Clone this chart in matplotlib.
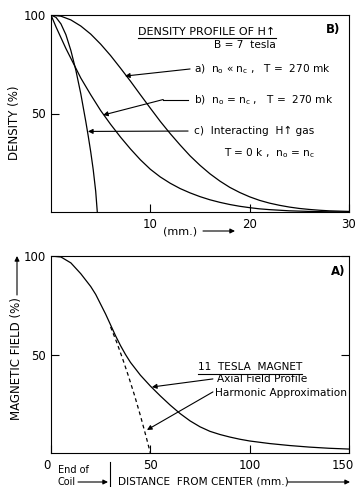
import matplotlib
matplotlib.use("Agg")
import matplotlib.pyplot as plt
import matplotlib.transforms as mtransforms
from matplotlib.lines import Line2D

plt.rcParams['font.family'] = ['DejaVu Sans']
plt.rcParams['mathtext.default'] = 'regular'

# ===== DATA =====
# B) density profiles of H-up, x in mm, density in %
dens_a_x = [0, 1, 2, 3, 4, 5, 6, 7, 8, 9, 10, 11, 12, 13, 14, 15, 16, 17, 18, 19,
            20, 21, 22, 23, 24, 25, 26, 27, 28, 30]
dens_a_y = [100, 99.4, 97.5, 94.4, 90.3, 85.2, 79.4, 73, 66.4, 59.5, 52.7, 46, 39.8, 34,
            28.5, 23.7, 19.4, 15.7, 12.5, 9.9, 7.7, 5.9, 4.5, 3.4, 2.5, 1.8, 1.3, 0.9, 0.6, 0.3]

dens_b_x = [0, 0.5, 1, 1.5, 2, 3, 4, 5, 6, 7, 8, 9, 10, 11, 12, 13, 14, 15, 16, 17, 18, 19,
            20, 21, 22, 24, 26, 28, 30]
dens_b_y = [100, 94, 88.5, 83, 78, 68, 59.5, 51.5, 44.5, 38, 32, 26.5, 21.7, 17.8, 14.6,
            11.9, 9.7, 7.8, 6.2, 4.9, 3.8, 2.9, 2.2, 1.6, 1.2, 0.6, 0.3, 0.1, 0]

dens_c_x = [0, 0.5, 1, 1.5, 2, 2.5, 3, 3.25, 3.5, 3.75, 4, 4.25, 4.5, 4.66]
dens_c_y = [100, 98.8, 95.5, 90, 82, 72, 60, 53, 46, 38.5, 30.5, 21.5, 10.5, 0]

# A) 11 tesla magnet, distance in mm, field in %
field_x = [0, 5, 10, 15, 20, 22.5, 25, 27.5, 30, 32.5, 35, 37.5, 40, 45, 50, 55, 60, 65,
           70, 75, 80, 85, 90, 95, 100, 110, 120, 130, 140, 150]
field_y = [100, 99.5, 96.5, 91, 84.5, 80.5, 75.5, 70.5, 65, 59.5, 54.5, 50, 46, 39.5,
           34, 29, 24.3, 20, 16.3, 13.3, 11, 9.4, 8.1, 7, 6.1, 4.8, 3.8, 3, 2.4, 2]

harm_x = [30, 33, 36, 39, 42, 45, 48, 50]
harm_y = [64, 56.4, 48, 39, 29.4, 19, 7.8, 0]

W, H = 358, 487
LW = 0.9
FS = 7.6


def fx(px):
    return px / W


def fy(py):
    return 1 - py / H


def underline(fig, txt, pad=1.5):
    fig.canvas.draw()
    bb = txt.get_window_extent()
    y = bb.y0 - pad
    fig.add_artist(Line2D([bb.x0 / fig.bbox.width, bb.x1 / fig.bbox.width],
                          [y / fig.bbox.height, y / fig.bbox.height],
                          transform=fig.transFigure, color='k', lw=0.8))


def arrow(ax, xy, xytext, coords='data'):
    ax.annotate('', xy=xy, xytext=xytext, xycoords=coords, textcoords=coords,
                annotation_clip=False,
                arrowprops=dict(arrowstyle='-|>', lw=0.8, color='k',
                                mutation_scale=7, shrinkA=0, shrinkB=0))


fig = plt.figure(figsize=(W / 100, H / 100), dpi=100)

# ===== ВЕРХНИЙ ГРАФИК: B) =====
ax1 = fig.add_axes([fx(51), fy(212), 298 / W, 197 / H])
ax1.plot(dens_a_x, dens_a_y, color='k', lw=LW)
ax1.plot(dens_b_x, dens_b_y, color='k', lw=LW)
ax1.plot(dens_c_x, dens_c_y, color='k', lw=LW)
ax1.set_xlim(0, 30)
ax1.set_ylim(0, 100)
ax1.set_xticks([10, 20, 30])
ax1.set_yticks([50, 100])
ax1.tick_params(direction='in', length=6, width=0.8, labelsize=8.5, pad=4)

t1 = ax1.text(15.7, 91.4, 'DENSITY PROFILE OF H↑', ha='center', va='center', fontsize=8)
ax1.text(28.4, 92.4, 'B)', ha='center', va='center', fontsize=8.5, weight='bold')
ax1.text(19.5, 84.8, 'B = 7  tesla', ha='center', va='center', fontsize=FS)
ax1.text(14.4, 72.3, 'a)  n$_o$ « n$_c$ ,   T =  270 mk', ha='left', va='center', fontsize=FS)
ax1.text(14.4, 56.9, 'b)  n$_o$ = n$_c$ ,   T =  270 mk', ha='left', va='center', fontsize=FS)
ax1.text(14.4, 41.1, 'c)  Interacting  H↑ gas', ha='left', va='center', fontsize=FS)
ax1.text(22.0, 30.0, 'T = 0 k ,  n$_o$ = n$_c$', ha='center', va='center', fontsize=FS)

arrow(ax1, (7.45, 69.0), (14.0, 72.6))
ax1.plot([13.8, 11.3], [57.1, 57.1], color='k', lw=0.8)
arrow(ax1, (5.24, 49.2), (11.3, 57.1))
arrow(ax1, (3.72, 40.9), (13.8, 41.1))

fig.text(fx(15), fy(123), 'DENSITY (%)', rotation=90, ha='center', va='center', fontsize=8.5)
fig.text(fx(180), fy(231), '(mm.)', ha='center', va='center', fontsize=8)
arrow(ax1, (fx(235), fy(231)), (fx(203), fy(231)), coords='figure fraction')

# ===== НИЖНИЙ ГРАФИК: A) =====
ax2 = fig.add_axes([fx(51), fy(453), 298 / W, 197 / H])
ax2.plot(field_x, field_y, color='k', lw=LW)
ax2.plot(harm_x, harm_y, color='k', lw=LW, ls=(0, (3, 2.5)))
ax2.set_xlim(0, 150)
ax2.set_ylim(0, 100)
ax2.set_xticks([0, 50, 100, 150])
ax2.set_yticks([50, 100])
ax2.tick_params(direction='in', length=6, width=0.8, labelsize=8.5, pad=4, right=True)
xlabs = ax2.get_xticklabels()
xlabs[0].set_horizontalalignment('right')
xlabs[-1].set_transform(xlabs[-1].get_transform() +
                        mtransforms.ScaledTranslation(-6 / 100, 0, fig.dpi_scale_trans))

t2 = ax2.text(100.2, 43.5, '11  TESLA  MAGNET', ha='center', va='center', fontsize=FS)
ax2.text(144.5, 91.9, 'A)', ha='center', va='center', fontsize=8.5, weight='bold')
ax2.text(83.6, 37.6, 'Axial Field Profile', ha='left', va='center', fontsize=FS)
ax2.text(82.5, 30.3, 'Harmonic Approximation', ha='left', va='center', fontsize=FS)
arrow(ax2, (50.8, 33.5), (81.5, 37.6))
arrow(ax2, (48.3, 11.7), (81.5, 31.0))

fig.text(fx(17), fy(359), 'MAGNETIC FIELD (%)', rotation=90, ha='center', va='center', fontsize=8.5)
arrow(ax2, (fx(17), fy(256)), (fx(17), fy(295)), coords='figure fraction')

fig.text(fx(58), fy(470), 'End of', ha='left', va='center', fontsize=7)
fig.text(fx(58), fy(482), 'Coil', ha='left', va='center', fontsize=7)
arrow(ax2, (fx(108), fy(482)), (fx(78), fy(482)), coords='figure fraction')
fig.add_artist(Line2D([fx(110), fx(110)], [fy(462), fy(487)],
                      transform=fig.transFigure, color='k', lw=0.8))
fig.text(fx(118), fy(482), 'DISTANCE  FROM CENTER (mm.)', ha='left', va='center', fontsize=FS)
arrow(ax2, (fx(350), fy(482)), (fx(288), fy(482)), coords='figure fraction')

underline(fig, t1)
underline(fig, t2)

fig.savefig('out.png', dpi=100)
